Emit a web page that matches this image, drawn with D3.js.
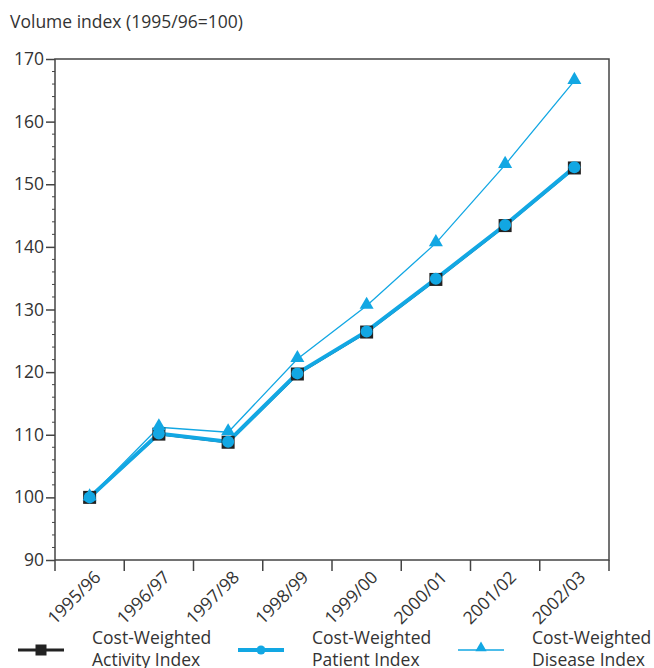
<!DOCTYPE html>
<html lang="en">
<head>
  <meta charset="UTF-8">
  <title>volume index</title>
  <script src="https://cdn.jsdelivr.net/npm/d3@7"></script>
  <style>
    body { margin: 0; background: #fff; }
    text { font-family: "Open Sans", "Noto Sans", sans-serif; fill: #333; }
  </style>
</head>
<body>
  <svg width="654" height="668"></svg>
  <script>
    var years = ['1995/96', '1996/97', '1997/98', '1998/99', '1999/00', '2000/01', '2001/02', '2002/03']
    var activity = [100, 110.1, 108.8, 119.7, 126.4, 134.8, 143.4, 152.6]
    var patient = [100, 110.2, 108.9, 119.8, 126.5, 134.9, 143.5, 152.7]
    var disease = [100, 111.2, 110.4, 122.1, 130.6, 140.6, 153.1, 166.5]
    var yTicks = [90, 100, 110, 120, 130, 140, 150, 160, 170]

    var blue = '#12a7e3'
    var fs = '17.5px'
    var svg = d3.select('svg')
    var m = { left: 55, right: 609, top: 59, bottom: 560 }

    var x = d3.scaleBand().domain(years).range([m.left, m.right])
    var y = d3.scaleLinear().domain([90, 170]).range([m.bottom, m.top])
    var cx = d => x(d) + x.bandwidth() / 2

    // frame
    svg.append('rect')
      .attr('x', m.left).attr('y', m.top)
      .attr('width', m.right - m.left).attr('height', m.bottom - m.top)
      .attr('fill', 'none').attr('stroke', '#444').attr('stroke-width', 1.5)

    // minor ticks
    svg.append('g')
      .selectAll('line')
      .data(d3.range(92, 170, 2).filter(v => v % 10 !== 0))
      .enter().append('line')
      .attr('x1', m.left - 3).attr('x2', m.left)
      .attr('y1', d => y(d)).attr('y2', d => y(d))
      .attr('stroke', '#444').attr('stroke-width', 1)

    var yAxis = svg.append('g')
      .attr('transform', `translate(${m.left},0)`)
      .call(d3.axisLeft(y).tickValues(yTicks).tickSize(9).tickPadding(2))
    yAxis.select('.domain').remove()
    yAxis.selectAll('line').attr('stroke', '#444').attr('stroke-width', 1.5)
    yAxis.selectAll('text').style('font-size', fs).attr('fill', '#333')

    // x ticks on band edges
    svg.append('g')
      .selectAll('line')
      .data(years.concat(['end']))
      .enter().append('line')
      .attr('x1', (d, i) => m.left + i * x.bandwidth())
      .attr('x2', (d, i) => m.left + i * x.bandwidth())
      .attr('y1', m.bottom).attr('y2', m.bottom + 11)
      .attr('stroke', '#444').attr('stroke-width', 1.5)

    svg.append('g')
      .selectAll('text')
      .data(years)
      .enter().append('text')
      .attr('transform', d => `translate(${cx(d) + 8},${m.bottom + 14}) rotate(-45)`)
      .attr('text-anchor', 'end')
      .attr('dy', '0.35em')
      .style('font-size', fs)
      .text(d => d)

    var line = d3.line().x((d, i) => cx(years[i])).y(d => y(d))

    // activity (black, underneath)
    svg.append('path').datum(activity)
      .attr('d', line).attr('fill', 'none')
      .attr('stroke', '#222').attr('stroke-width', 2.5)

    // disease
    svg.append('path').datum(disease)
      .attr('d', line).attr('fill', 'none')
      .attr('stroke', blue).attr('stroke-width', 1.3)

    // patient
    svg.append('path').datum(patient)
      .attr('d', line).attr('fill', 'none')
      .attr('stroke', blue).attr('stroke-width', 4)

    svg.append('g').selectAll('rect')
      .data(activity).enter().append('rect')
      .attr('x', (d, i) => cx(years[i]) - 6.5)
      .attr('y', d => y(d) - 6.5)
      .attr('width', 13).attr('height', 13)
      .attr('fill', '#222')

    svg.append('g').selectAll('circle')
      .data(patient).enter().append('circle')
      .attr('cx', (d, i) => cx(years[i]))
      .attr('cy', d => y(d))
      .attr('r', 6)
      .attr('fill', blue)

    var tri = d3.symbol().type(d3.symbolTriangle).size(85)
    svg.append('g').selectAll('path')
      .data(disease).enter().append('path')
      .attr('transform', (d, i) => `translate(${cx(years[i])},${y(d) - 1})`)
      .attr('d', tri)
      .attr('fill', blue)

    // title
    svg.append('text')
      .attr('x', 10).attr('y', 28)
      .style('font-size', fs)
      .text('Volume index (1995/96=100)')

    // legend
    var legend = [
      { name: ['Cost-Weighted', 'Activity Index'], x: 18, kind: 'square' },
      { name: ['Cost-Weighted', 'Patient Index'], x: 238, kind: 'circle' },
      { name: ['Cost-Weighted', 'Disease Index'], x: 458, kind: 'triangle' }
    ]
    var ly = 650
    legend.forEach(function (l) {
      var g = svg.append('g')
      var mid = l.x + 23
      if (l.kind === 'square') {
        g.append('line').attr('x1', l.x).attr('x2', l.x + 46).attr('y1', ly).attr('y2', ly)
          .attr('stroke', '#222').attr('stroke-width', 3)
        g.append('rect').attr('x', mid - 5.5).attr('y', ly - 5.5).attr('width', 11).attr('height', 11).attr('fill', '#222')
      } else if (l.kind === 'circle') {
        g.append('line').attr('x1', l.x).attr('x2', l.x + 46).attr('y1', ly).attr('y2', ly)
          .attr('stroke', blue).attr('stroke-width', 4)
        g.append('circle').attr('cx', mid).attr('cy', ly).attr('r', 4.5).attr('fill', blue)
      } else {
        g.append('line').attr('x1', l.x).attr('x2', l.x + 46).attr('y1', ly).attr('y2', ly)
          .attr('stroke', blue).attr('stroke-width', 1.3)
        g.append('path').attr('transform', `translate(${mid},${ly - 2})`)
          .attr('d', d3.symbol().type(d3.symbolTriangle).size(55)).attr('fill', blue)
      }
      g.selectAll('text').data(l.name).enter().append('text')
        .attr('x', l.x + 74).attr('y', (d, i) => 644 + i * 22)
        .style('font-size', fs)
        .text(d => d)
    })
  </script>
</body>
</html>
